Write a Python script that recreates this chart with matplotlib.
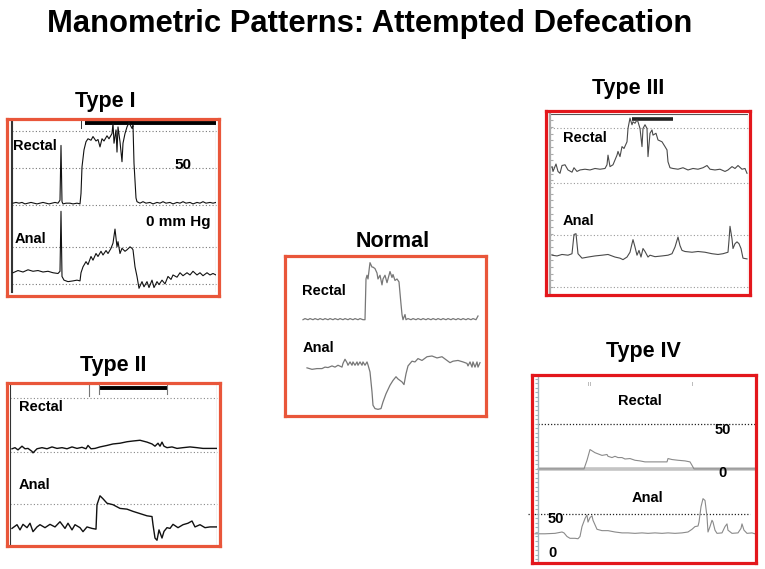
import numpy as np
import matplotlib.pyplot as plt

W, H = 765, 569
plt.rcParams['font.family'] = ['Liberation Sans', 'DejaVu Sans']

# traces: (time, pressure mmHg) pairs
type1_rectal = np.array([
    (1, 3), (4, 4), (7, 3), (10, 4), (13, 2), (16, 3), (19, 4), (22, 3), (25, 2), (28, 3),
    (31, 4), (34, 3), (37, 2), (40, 3), (43, 4), (46, 3), (48, 7), (49, 81), (50, 5), (51, 2),
    (54, 3), (58, 3), (61, 2), (65, 3), (68, 2), (69, 16), (70, 52), (72, 75), (74, 86), (76, 90),
    (79, 88), (81, 93), (84, 87), (86, 89), (88, 79), (90, 90), (92, 87), (95, 94), (97, 90), (100, 97),
    (101, 111), (102, 84), (104, 102), (105, 72), (106, 106), (108, 86), (110, 59), (111, 84), (113, 97), (115, 106),
    (117, 112), (120, 104), (121, 108), (122, 57), (124, 10), (125, 5), (128, 3), (131, 5), (134, 3), (138, 4),
    (141, 2), (145, 4), (148, 3), (151, 5), (154, 3), (158, 4), (161, 2), (165, 4), (168, 3), (171, 5),
    (174, 3), (178, 4), (181, 2), (185, 4), (188, 3), (191, 5), (194, 3), (198, 4), (201, 3), (204, 4)])
type1_anal = np.array([
    (1, 15), (6, 18), (11, 16), (16, 19), (21, 17), (26, 18), (31, 16), (36, 17), (41, 15), (46, 14),
    (48, 17), (49, 98), (50, 10), (52, 5), (56, 3), (61, 4), (65, 5), (68, 4), (69, 15), (71, 23),
    (74, 30), (76, 26), (79, 37), (81, 32), (84, 41), (86, 37), (89, 44), (91, 39), (94, 45), (96, 41),
    (99, 48), (101, 55), (103, 74), (105, 50), (106, 57), (108, 41), (110, 48), (113, 44), (115, 46), (118, 50),
    (120, 48), (121, 46), (123, 23), (125, 10), (127, -6), (130, 3), (132, -4), (135, 3), (137, -5), (140, 5),
    (142, -5), (145, 3), (147, -1), (150, 5), (153, 0), (156, 10), (159, 6), (161, 12), (165, 9), (168, 15),
    (171, 11), (175, 15), (178, 12), (181, 17), (185, 12), (188, 15), (191, 11), (195, 15), (198, 12), (201, 14),
    (204, 12)])

type2_rectal = np.array([
    (2, 4.5), (5, 6), (8, 3), (12, 8), (15, 4.5), (18, 5), (22, 1), (23, -1), (27, 4.5), (32, 6),
    (37, 4.5), (42, 7), (47, 5), (52, 6), (57, 4.5), (62, 7), (67, 5), (72, 6.5), (76, 4.5), (78, 9),
    (81, 4.5), (85, 5), (90, 7), (97, 9), (103, 11), (110, 12), (117, 14), (123, 15), (130, 16), (137, 13.5),
    (142, 11), (145, 8), (148, 12), (150, 8), (152, 13.5), (154, 8), (157, 6), (162, 7), (167, 5), (173, 6),
    (180, 7), (187, 6), (193, 5), (200, 5), (207, 5)])
type2_anal = np.array([
    (2, 17), (7, 22), (10, 15), (13, 22.5), (17, 18), (20, 24), (23, 12.6), (27, 19), (30, 22), (35, 18),
    (40, 22.5), (45, 19), (50, 26), (55, 17), (58, 24), (62, 15), (65, 22), (70, 18), (73, 12.6), (77, 19),
    (82, 17), (86, 16), (87, 49), (90, 61), (93, 57), (97, 51), (103, 49), (110, 44), (117, 43), (123, 40),
    (130, 37), (137, 34), (142, 33), (143, 22), (145, 4), (147, 1), (149, 15), (152, 4), (154, 13), (157, 18),
    (160, 17), (163, 22.5), (168, 18), (173, 22), (178, 24), (182, 27), (185, 19), (190, 22), (195, 18), (200, 19),
    (207, 19)])

normal_rectal = np.array([
    (18, 1), (20, 2.5), (23, 1), (25, 2.5), (28, 1), (30, 2.5), (33, 1), (35, 2.5), (38, 1), (40, 2.5),
    (43, 1), (45, 2.5), (48, 1), (50, 2.5), (53, 1), (55, 2.5), (58, 1), (60, 2.5), (63, 1), (65, 2.5),
    (68, 1), (70, 2.5), (73, 1), (75, 2.5), (78, 1), (80, 1), (81, 56), (82, 61), (83, 56), (85, 78),
    (87, 72), (88, 72), (90, 70), (92, 64), (93, 56), (95, 61), (97, 48), (98, 56), (100, 61), (102, 51),
    (103, 56), (105, 66), (107, 58), (108, 62), (110, 54), (112, 56), (114, 52), (116, 22), (117, 8), (118, 1),
    (120, 8), (121, 1), (123, 2.5), (126, 1), (128, 2.5), (131, 1), (133, 2.5), (136, 1), (138, 2.5), (141, 1),
    (143, 2.5), (146, 1), (148, 2.5), (151, 1), (153, 2.5), (156, 1), (158, 2.5), (161, 1), (163, 2.5), (166, 1),
    (168, 2.5), (171, 1), (173, 2.5), (176, 1), (178, 2.5), (181, 1), (183, 2.5), (186, 1), (188, 2.5), (191, 1),
    (193, 6)])
normal_anal = np.array([
    (22, 1), (27, -1), (32, 0), (37, 0), (40, 2), (43, 1.4), (47, 3.6), (50, 2), (53, 4.5), (57, 2),
    (58, 7), (60, 12.6), (62, 8), (63, 4.5), (65, 9), (67, 4.5), (68, 9), (70, 4.5), (72, 9), (73, 4.5),
    (75, 9), (77, 4.5), (78, 9), (80, 4.5), (82, 9), (83, 5), (85, -4.5), (87, -31.5), (88, -49.5), (90, -54),
    (93, -55), (96, -54), (98, -45), (101, -34), (105, -22.5), (108, -16), (111, -11), (113, -14), (117, -18), (119, -21.6),
    (121, -7), (123, 3.6), (127, 10), (130, 9), (133, 13.5), (137, 11), (142, 16), (147, 17), (152, 14.4), (157, 16),
    (162, 11), (165, 8), (168, 10), (173, 11), (178, 9), (182, 7), (183, 3.6), (185, 9), (187, 2), (188, 9),
    (190, 2), (192, 9), (193, 2), (195, 8)])

type3_rectal = np.array([
    (12, 22.5), (13, 16), (16, 26), (18, 16), (20, 13.5), (22, 24), (25, 25), (28, 18), (32, 15), (34, 21),
    (37, 16), (40, 18), (45, 19), (50, 18), (55, 20), (60, 19), (65, 20), (67, 25), (68, 38), (70, 22.5),
    (73, 25), (77, 38), (78, 43), (80, 36), (82, 49.5), (84, 47), (87, 56), (88, 74), (90, 88), (92, 79),
    (93, 83), (95, 81), (97, 85.5), (98, 83), (100, 74), (102, 49.5), (103, 74), (105, 79), (107, 74), (108, 36),
    (110, 67.5), (112, 72), (113, 65), (116, 67.5), (118, 58.5), (122, 56), (125, 49.5), (127, 45), (128, 29), (130, 21),
    (133, 20), (138, 19), (143, 21), (148, 18), (153, 20), (158, 19), (163, 21), (167, 24), (170, 19), (175, 18),
    (180, 19), (185, 16), (188, 18), (192, 22.5), (195, 20), (198, 24), (202, 19), (205, 20), (207, 13.5)])
type3_anal = np.array([
    (12, 43), (17, 42), (22, 44), (28, 43), (32, 45), (34, 71), (36, 72), (38, 45), (42, 39), (48, 40.5),
    (55, 42), (62, 43), (68, 44), (75, 40.5), (80, 39), (83, 37), (87, 40.5), (90, 47), (92, 58.5), (93, 64),
    (95, 54), (97, 43), (99, 49.5), (101, 40.5), (103, 52), (105, 48), (108, 40.5), (110, 43), (115, 41), (122, 42),
    (128, 43), (132, 45), (135, 54), (138, 67.5), (140, 56), (142, 49.5), (145, 48), (152, 47), (158, 48), (165, 47),
    (172, 45), (178, 44), (183, 45), (188, 47), (189, 63), (190, 82), (192, 65), (193, 52), (195, 58.5), (197, 61),
    (199, 58.5), (201, 52), (203, 39), (207, 38)])

type4_rectal = np.array([
    (0, 0), (20, 0), (46, 0), (49, 9.6), (52, 21.5), (57, 18), (64, 15), (69, 16), (70, 14), (74, 12.6),
    (77, 14), (80, 12.6), (84, 12.6), (87, 11), (92, 11.5), (97, 9.6), (102, 8.9), (107, 7.8), (120, 7.8), (129, 7.8),
    (130, 11.5), (134, 10.4), (140, 9.6), (147, 8.9), (152, 7.8), (154, 4), (156, 0), (187, 0), (217, 0)])
type4_anal = np.array([
    (-3, 28), (7, 28), (17, 28.5), (24, 30), (26, 29), (29, 25), (32, 23), (37, 23), (40, 22.5), (42, 25),
    (44, 36), (47, 45), (49, 49), (50, 41), (52, 46), (54, 48), (55, 43), (59, 33), (64, 31.5), (70, 31.5),
    (77, 30), (84, 29), (90, 29), (97, 28.5), (104, 29), (110, 28.5), (117, 29), (124, 28.5), (130, 29), (137, 28.5),
    (144, 29), (150, 30), (154, 33), (157, 36), (160, 36.6), (161, 41), (163, 58), (165, 67), (167, 65), (169, 47),
    (170, 30), (172, 36), (174, 43), (175, 41), (177, 32), (179, 28.5), (184, 29), (187, 36), (189, 39), (190, 32),
    (194, 28.5), (200, 29), (203, 34), (204, 39), (206, 32), (209, 28.5), (214, 29), (217, 28)])

ORANGE = '#e9563a'
RED = '#e3171c'

fig = plt.figure(figsize=(W / 100, H / 100), dpi=100)


def px_box(x0, y0, x1, y1):
    return [x0 / W, 1 - y1 / H, (x1 - x0) / W, (y1 - y0) / H]


def text(x, y, s, size=10.5, ha='left', **kw):
    fig.text(x / W, 1 - y / H, s, fontsize=size, fontweight='bold', ha=ha, va='baseline', **kw)


def frame(x0, y0, x1, y1, color):
    ax = fig.add_axes(px_box(x0, y0, x1, y1))
    ax.set_xticks([])
    ax.set_yticks([])
    ax.patch.set_alpha(0)
    for sp in ax.spines.values():
        sp.set_color(color)
        sp.set_linewidth(2.3)
    ax.set_zorder(5)


def chart(x0, y0, x1, y1, xlim, ylim):
    ax = fig.add_axes(px_box(x0, y0, x1, y1))
    ax.set_xlim(*xlim)
    ax.set_ylim(*ylim)
    ax.set_xticks([])
    ax.set_yticks([])
    ax.patch.set_alpha(0)
    for sp in ax.spines.values():
        sp.set_visible(False)
    return ax


def grid(ax, levels, x0, x1, color='#777777', lw=0.8):
    for lv in levels:
        ax.plot([x0, x1], [lv, lv], ls=(0, (1, 2)), color=color, lw=lw, clip_on=False)


text(370, 32, 'Manometric Patterns: Attempted Defecation', size=22.3, ha='center')

# ---- Type I
text(105, 107, 'Type I', size=15.5, ha='center')
ax = chart(12, 121, 216, 292, (0, 204), (-11, 220))
off = 106
grid(ax, [0, 50, off, off + 50, off + 100], 0, 204)
for xv in (-1.3, 0):
    ax.axvline(xv, color='#333333', lw=0.8, clip_on=False)
ax.axvline(204, color='#555555', lw=0.8)
ax.plot([73, 204], [217.5, 217.5], color='black', lw=2.8, solid_capstyle='butt', clip_on=False)
ax.plot([69, 69], [220, 211], color='#333333', lw=0.7)
ax.plot(type1_rectal[:, 0], type1_rectal[:, 1] + off, color='#111111', lw=0.8)
ax.plot(type1_anal[:, 0], type1_anal[:, 1], color='#111111', lw=0.8)
frame(7, 119, 219, 296, ORANGE)
text(13, 150, 'Rectal')
text(15, 243, 'Anal')
text(174, 169, '50', size=11)
text(146, 226, '0 mm Hg', size=11)

# ---- Type II
text(113, 371, 'Type II', size=15.5, ha='center')
ax = chart(10, 385, 217, 545, (0, 207), (-5.4, 210.6))
off = 120
grid(ax, [50, off, 193], 0, 207, color='#888888')
ax.axvline(0, color='#333333', lw=0.8)
ax.axvline(207, color='#333333', lw=0.8)
ax.plot([89, 157], [207, 207], color='black', lw=2.8, solid_capstyle='butt')
for xv, y1 in ((79, 196), (89, 199), (157, 199)):
    ax.plot([xv, xv], [210, y1], color='#777777', lw=0.8)
ax.plot(type2_rectal[:, 0], type2_rectal[:, 1] + off, color='#111111', lw=1.0)
ax.plot(type2_anal[:, 0], type2_anal[:, 1], color='#111111', lw=1.0)
frame(7, 383, 220, 546, ORANGE)
text(19, 411, 'Rectal')
text(19, 489, 'Anal')

# ---- Normal
text(393, 247, 'Normal', size=15.5, ha='center')
ax = chart(285, 256, 486, 416, (0, 201), (-64, 152))
off = 65
ax.plot(normal_rectal[:, 0], normal_rectal[:, 1] + off, color='#777777', lw=0.9)
ax.plot(normal_anal[:, 0], normal_anal[:, 1], color='#777777', lw=0.9)
frame(285, 256, 486, 416, ORANGE)
text(302, 295, 'Rectal')
text(303, 352, 'Anal')

# ---- Type III
text(628, 94, 'Type III', size=15.5, ha='center')
ax = chart(550, 114, 748, 293, (10, 208), (-8, 233.5))
off = 140
grid(ax, [0, 70, off, 214.6], 10, 208, color='#999999')
ax.spines['left'].set_visible(True)
ax.spines['left'].set_color('#aaaaaa')
ax.spines['left'].set_linewidth(1.6)
ax.set_yticks(np.arange(0, 233, 9))
ax.tick_params(axis='y', direction='in', length=2, color='#aaaaaa', labelleft=False)
ax.axhline(233.5, color='#555555', lw=0.8)
ax.axvline(208, color='#777777', lw=0.8)
ax.plot([92, 133], [227, 227], color='#222222', lw=2.6, solid_capstyle='butt')
ax.plot(type3_rectal[:, 0], type3_rectal[:, 1] + off, color='#4a4a4a', lw=0.8)
ax.plot(type3_anal[:, 0], type3_anal[:, 1], color='#4a4a4a', lw=0.8)
frame(546, 111, 750, 295, RED)
text(563, 142, 'Rectal')
text(563, 225, 'Anal')

# ---- Type IV
text(643, 357, 'Type IV', size=15.5, ha='center')
ax = chart(528, 377, 755, 562, (-10, 217), (-3.3, 202))
off = 100
ax.hlines(off, 0, 217, color='#c4c4c4', lw=2.6)
ax.spines['left'].set_visible(True)
ax.spines['left'].set_position(('data', 0))
ax.spines['left'].set_color('#9fb3bd')
ax.spines['left'].set_linewidth(1.0)
ax.set_yticks(np.arange(0, 202, 5))
ax.tick_params(axis='y', direction='out', length=2, color='#9fb3bd', labelleft=False)
ax.plot([0, 217], [off + 50, off + 50], ls=(0, (1, 1.5)), color='#222222', lw=0.9)
ax.plot([-10, 212], [50, 50], ls=(0, (1, 1.5)), color='#222222', lw=0.9)
for xv in (50, 52, 154):
    ax.plot([xv, xv], [197, 193], color='#bbbbbb', lw=0.7)
ax.plot(type4_rectal[:, 0], type4_rectal[:, 1] + off, color='#8a8a8a', lw=0.8)
ax.plot(type4_anal[:, 0], type4_anal[:, 1], color='#8a8a8a', lw=0.8)
frame(532, 375, 756, 563, RED)
text(618, 405, 'Rectal')
text(632, 502, 'Anal')
text(715, 434, '50', size=10.5)
text(718, 477, '0', size=10.5)
text(548, 523, '50', size=10.5)
text(548, 557, '0', size=10.5)

fig.savefig('out.png', dpi=100)
